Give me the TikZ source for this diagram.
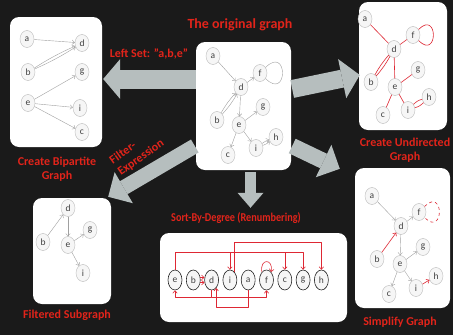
\documentclass[tikz,border=0pt]{standalone}
\usepackage{fontspec}
\setmainfont{Carlito}
\usetikzlibrary{shapes.geometric,arrows.meta,calc}
\definecolor{bgc}{RGB}{26,26,26}
\definecolor{lbl}{RGB}{226,36,26}
\definecolor{blk}{RGB}{182,190,190}
\definecolor{edg}{RGB}{160,160,160}
\definecolor{rln}{RGB}{222,40,52}
\tikzset{
  panel/.style={fill=white, rounded corners=9pt, inner sep=0pt},
  vtx/.style={ellipse, draw=gray!55, fill=gray!7, line width=0.4pt, minimum width=14pt, minimum height=17pt, inner sep=0pt, font=\fontsize{9.5}{10}\selectfont, text=black!75},
  sv/.style={vtx, draw=black!85, line width=0.6pt, minimum width=14pt, minimum height=20pt},
  ed/.style={draw=edg, line width=0.4pt, -{Straight Barb[length=2.5pt, width=4.5pt]}},
  ud/.style={draw=rln, line width=0.6pt},
  redge/.style={ed, draw=rln, line width=0.6pt},
  bigarr/.style n args={3}{draw=blk, line width=#1, -{Triangle[width=#2, length=#3, line width=0pt]}},
  lab/.style={text=lbl, font=\bfseries\fontsize{12}{14}\selectfont, align=center},
}
\begin{document}
\begin{tikzpicture}[x=1pt, y=-1pt, line join=round]
\fill[bgc] (0,0) rectangle (453,335);
\useasboundingbox (0,0) rectangle (453,335);

% panels
\node[panel, minimum width=92pt, minimum height=130pt] (bip) at (56,82) {};
\node[panel, minimum width=95pt, minimum height=128pt] (orig) at (243.5,106) {};
\node[panel, minimum width=88pt, minimum height=128pt] (undir) at (403,66) {};
\node[panel, minimum width=78pt, minimum height=106pt] (filt) at (72,251) {};
\node[panel, minimum width=187pt, minimum height=89pt] (sortb) at (253.5,277.5) {};
\node[panel, minimum width=95pt, minimum height=140pt] (simp) at (402.5,238) {};

% block arrows
\draw[bigarr={19pt}{40pt}{17pt}] ($(orig.west)+(0,-27)$) -- ($(bip.east)+(1,-3)$);
\draw[bigarr={18pt}{40pt}{18pt}] ($(orig.east)+(1,-17)$) -- ($(undir.west)+(1,9)$);
\draw[bigarr={16pt}{36pt}{18pt}] ($(orig.east)+(1,40)$) -- ($(simp.north west)+(-15,1)$);
\draw[bigarr={11pt}{26pt}{15pt}] ($(orig.south)+(7,2)$) -- ($(sortb.north)+(-3,-25)$);
\draw[bigarr={15pt}{36pt}{18pt}] ($(orig.west)+(-1,40)$) -- ($(filt.north east)+(-3,-1)$);

% labels
\node[lab, font=\bfseries\fontsize{14}{15}\selectfont] (ttl) at (240,25) {The original graph};
\node[lab] (lset) at (149,54) {Left Set: "a,b,e"};
\node[lab] (lbip) at (57,169) {Create Bipartite\\Graph};
\node[lab, rotate=35, align=left] (lfil) at (137,152) {Filter-\\Expression};
\node[lab] (lund) at (405,150) {Create Undirected\\Graph};
\node[lab] (lsub) at (67,315) {Filtered Subgraph};
\node[lab, xscale=0.85, transform shape] (lsrt) at (236,218) {Sort-By-Degree (Renumbering)};
\node[lab] (lsim) at (400,322) {Simplify Graph};

% original graph
\node[vtx] (oa) at (213,56) {a};
\node[vtx] (of) at (260,73) {f};
\node[vtx] (od) at (241,87) {d};
\node[vtx] (og) at (263,107) {g};
\node[vtx] (ob) at (217,120) {b};
\node[vtx] (oe) at (239,125) {e};
\node[vtx] (oh) at (276,137) {h};
\node[vtx] (oi) at (256,148) {i};
\node[vtx] (oc) at (228,155) {c};
\foreach \u/\v in {oa/od,od/of,od/oe,oe/og,oe/oc,oe/oi}
  \draw[ed] (\u) -- (\v);
\draw[ed] (ob) to[bend left=6] (od);
\draw[ed] (ob) to[bend right=6] (od);
\draw[ed] (oi) to[bend left=8] (oh);
\draw[ed] (oi) to[bend right=8] (oh);
\draw[draw=edg, line width=0.4pt] (of) to[out=45, in=-45, distance=32pt] (of);

% bipartite graph
\node[vtx] (pa) at (27,39) {a};
\node[vtx] (pd) at (82,43) {d};
\node[vtx] (pb) at (28,72) {b};
\node[vtx] (pg) at (82,72) {g};
\node[vtx] (pe) at (28,103) {e};
\node[vtx] (pi) at (80,108) {i};
\node[vtx] (pc) at (82,132) {c};
\foreach \u/\v in {pa/pd,pe/pg,pe/pi,pe/pc}
  \draw[ed] (\u) -- (\v);
\draw[ed] (pb) to[bend left=4] (pd);
\draw[ed] (pb) to[bend right=4] (pd);

% undirected graph
\node[vtx] (ua) at (365,19) {a};
\node[vtx] (uf) at (413,35) {f};
\node[vtx] (ud) at (394,49) {d};
\node[vtx] (ug) at (418,70) {g};
\node[vtx] (ub) at (371,82) {b};
\node[vtx] (ue) at (395,87) {e};
\node[vtx] (uh) at (429,97) {h};
\node[vtx] (uc) at (383,115) {c};
\node[vtx] (ui) at (408,110) {i};
\foreach \u/\v in {ua/ud,ud/uf,ud/ue,ue/ug,ue/uc,ue/ui}
  \draw[ud] (\u) -- (\v);
\draw[ud] (ub) to[bend left=6] (ud);
\draw[ud] (ub) to[bend right=6] (ud);
\draw[ud] (ui) to[bend left=14] (uh);
\draw[ud] (ui) to[bend right=14] (uh);
\draw[ud] (uf) to[out=45, in=-45, distance=28pt] (uf);

% filtered subgraph
\node[vtx] (qd) at (68,208) {d};
\node[vtx] (qg) at (90,230) {g};
\node[vtx] (qb) at (43,242) {b};
\node[vtx] (qe) at (68,245) {e};
\node[vtx] (qi) at (83,273) {i};
\foreach \u/\v in {qb/qd,qd/qe,qe/qg,qe/qi}
  \draw[ed] (\u) -- (\v);

% simplified graph
\node[vtx] (ma) at (372,196) {a};
\node[vtx] (mf) at (419,212) {f};
\node[vtx] (md) at (401,226) {d};
\node[vtx] (mg) at (423,247) {g};
\node[vtx] (mb) at (377,259) {b};
\node[vtx] (me) at (400,264) {e};
\node[vtx] (mh) at (436,276) {h};
\node[vtx] (mi) at (416,288) {i};
\node[vtx] (mc) at (389,294) {c};
\foreach \u/\v in {ma/md,md/mf,md/me,me/mg,me/mc,me/mi}
  \draw[ed] (\u) -- (\v);
\draw[redge] (mb) -- (md);
\draw[redge] (mi) -- (mh);
\draw[ud, dashed] (mf) to[out=45, in=-45, distance=28pt] (mf);

% sorted by degree
\coordinate (top1) at (0,252.7);
\coordinate (top2) at (0,242.7);
\coordinate (bot1) at (0,297.7);
\coordinate (bot2) at (0,307.7);
\foreach \n [count=\k from 0] in {e,b,d,i,a,f,c,g,h}
  \node[sv] (s\n) at (175+18.3*\k,280) {\n};
\draw[redge] (se.north) -- (se.north |- top1) -- (sg.north |- top1) -- (sg.north);
\draw[redge] (si.north |- top1) -- (si.north);
\draw[redge] (sc.north |- top1) -- (sc.north);
\draw[redge] (si.60) |- (sh.north |- top2) -- (sh.north);
\draw[redge] (sf.120) to[out=100, in=80, distance=14pt] (sf.60);
\draw[redge] (sb.20) -- (sd.160);
\draw[redge] (sb.-20) -- (sd.200);
\draw[redge] (sd.south) -- (sd.south |- bot1) -- (se.south |- bot1) -- (se.south);
\draw[redge] (sd.south |- bot1) -- (sf.south |- bot1) -- (sf.south);
\draw[redge] (sa.south) |- (sd.-60 |- bot2) -- (sd.-60);
\end{tikzpicture}
\end{document}
